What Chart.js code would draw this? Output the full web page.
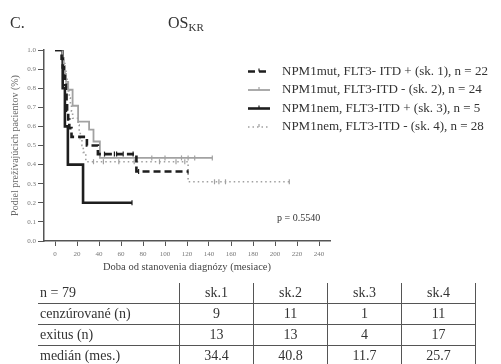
<!DOCTYPE html>
<html>
<head>
<meta charset="utf-8">
<script src="https://cdn.jsdelivr.net/npm/chart.js@4/dist/chart.umd.min.js"></script>
<style>
  body { margin: 0; background: #fff; font-family: "Liberation Serif", serif; color: #333; }
  #wrap { position: relative; width: 501px; height: 364px; overflow: hidden; }
  #chart { position: absolute; left: 0; top: 0; }
  .txt { position: absolute; white-space: nowrap; line-height: 1; }
  #panel { left: 10px; top: 15px; font-size: 16px; }
  #title { left: 168px; top: 15px; font-size: 16px; }
  #title sub { font-size: 11px; vertical-align: -3px; }
  #pval { left: 277px; top: 213px; font-size: 10px; }
  table { position: absolute; left: 38px; top: 283px; border-collapse: collapse; font-size: 14px; color: #333; }
  td { height: 20px; padding: 0; width: 73px; text-align: center; border-left: 1.5px solid #555; border-bottom: 1.5px solid #555; }
  td:first-child { width: 139px; padding-left: 2px; text-align: left; border-left: none; }
  td:last-child { border-right: 1.5px solid #555; }
  tr:last-child td { border-bottom: none; }
</style>
</head>
<body>
<div id="wrap">
  <canvas id="chart" width="501" height="285"></canvas>
  <div class="txt" id="panel">C.</div>
  <div class="txt" id="title">OS<sub>KR</sub></div>
  <div class="txt" id="pval">p = 0.5540</div>
  <table id="stats"></table>
</div>
<script>
// Kaplan-Meier steps: time (months) where survival drops to the given value
const sk1Time = [0, 6, 7, 8, 9, 10, 10.5, 11, 12, 13, 15, 29, 39, 74, 121];
const sk1Surv = [1, 0.955, 0.909, 0.864, 0.818, 0.773, 0.727, 0.682, 0.636, 0.591, 0.545, 0.5, 0.455, 0.364, 0.364];
const sk1Cens = [45, 54, 56, 62, 71, 76, 121];

const sk2Time = [0, 7, 8, 9, 10, 12, 16, 21, 31, 35, 40.8, 143];
const sk2Surv = [1, 0.958, 0.917, 0.875, 0.833, 0.792, 0.708, 0.625, 0.583, 0.521, 0.435, 0.435];
const sk2Cens = [88, 100, 115, 121, 127, 143];

const sk3Time = [0, 7, 9, 11.7, 25.5, 70];
const sk3Surv = [1, 0.8, 0.6, 0.4, 0.2, 0.2];
const sk3Cens = [70];

const sk4Time = [0, 7, 8, 9, 10, 11, 12, 13, 14, 15, 16, 21, 22, 23, 24.5, 25.7, 28, 121, 213];
const sk4Surv = [1, 0.964, 0.929, 0.893, 0.857, 0.821, 0.786, 0.75, 0.714, 0.679, 0.643, 0.607, 0.571, 0.536, 0.5, 0.464, 0.415, 0.31, 0.31];
const sk4Cens = [35, 44, 58, 72, 95, 110, 118, 145, 149, 155, 213];

const groupLabels = [
  "NPM1mut, FLT3- ITD + (sk. 1), n = 22",
  "NPM1mut, FLT3-ITD - (sk. 2), n = 24",
  "NPM1nem, FLT3-ITD + (sk. 3), n = 5",
  "NPM1nem, FLT3-ITD - (sk. 4), n = 28"
];
const xTicks = [0, 20, 40, 60, 80, 100, 120, 140, 160, 180, 200, 220, 240];
const yTicks = [0, 0.1, 0.2, 0.3, 0.4, 0.5, 0.6, 0.7, 0.8, 0.9, 1.0];

const tableHead = ["n = 79", "sk.1", "sk.2", "sk.3", "sk.4"];
const tableRows = [
  ["cenzúrované (n)", 9, 11, 1, 11],
  ["exitus (n)", 13, 13, 4, 17],
  ["medián (mes.)", "34.4", "40.8", "11.7", "25.7"]
];

function survAt(times, surv, t) {
  let s = surv[0];
  for (let i = 0; i < times.length; i++) if (times[i] <= t) s = surv[i];
  return s;
}

const groups = [
  { time: sk1Time, surv: sk1Surv, cens: sk1Cens, color: "#1e1e1e", width: 2.6, dash: [7, 4] },
  { time: sk2Time, surv: sk2Surv, cens: sk2Cens, color: "#a2a2a2", width: 1.8, dash: [] },
  { time: sk3Time, surv: sk3Surv, cens: sk3Cens, color: "#1e1e1e", width: 2.6, dash: [] },
  { time: sk4Time, surv: sk4Surv, cens: sk4Cens, color: "#a0a0a0", width: 1.6, dash: [1.5, 3] }
];

const datasets = [];
groups.forEach((g, i) => {
  datasets.push({
    type: "line",
    label: groupLabels[i],
    data: g.time.map((t, k) => ({ x: t, y: g.surv[k] })),
    stepped: true,
    borderColor: g.color,
    borderWidth: g.width,
    borderDash: g.dash,
    pointRadius: 0,
    fill: false
  });
});
groups.forEach((g, i) => {
  datasets.push({
    type: "scatter",
    label: "cens" + (i + 1),
    data: g.cens.map(t => ({ x: t, y: survAt(g.time, g.surv, t) })),
    pointStyle: "line",
    rotation: 90,
    pointRadius: 2.5,
    borderColor: g.color,
    borderWidth: 1.2,
    backgroundColor: g.color
  });
});

// legend on the right: line sample with censor tick, then the label
const legendPlugin = {
  id: "kmLegend",
  afterDraw(chart) {
    const ctx = chart.ctx;
    ctx.save();
    for (let i = 0; i < 4; i++) {
      const ds = chart.data.datasets[i];
      const y = 71.5 + i * 18.5;
      ctx.strokeStyle = ds.borderColor;
      ctx.lineWidth = ds.borderWidth;
      ctx.setLineDash(ds.borderDash);
      ctx.beginPath();
      ctx.moveTo(248, y);
      ctx.lineTo(270, y);
      ctx.stroke();
      ctx.setLineDash([]);
      ctx.lineWidth = 1.2;
      ctx.beginPath();
      ctx.moveTo(259, y - 3);
      ctx.lineTo(259, y);
      ctx.stroke();
      ctx.fillStyle = "#333";
      ctx.font = "13px 'Liberation Serif'";
      ctx.textBaseline = "middle";
      ctx.fillText(ds.label, 282, y);
    }
    ctx.restore();
  }
};

new Chart(document.getElementById("chart"), {
  data: { datasets: datasets },
  options: {
    responsive: false,
    animation: false,
    layout: { padding: { left: 0, top: 50, right: 171, bottom: 0 } },
    plugins: { legend: { display: false }, tooltip: { enabled: false } },
    scales: {
      x: {
        type: "linear",
        min: -10,
        max: 250,
        afterFit: s => { s.height = 44; },
        afterBuildTicks: s => { s.ticks = xTicks.map(v => ({ value: v })); },
        grid: { drawOnChartArea: false, drawTicks: true, tickLength: 5, color: "#555" },
        border: { display: true, color: "#555", width: 1.5 },
        ticks: { color: "#777", font: { family: "Liberation Serif", size: 7 }, padding: 4, maxRotation: 0 },
        title: { display: true, text: "Doba od stanovenia diagnózy (mesiace)", color: "#444",
                 font: { family: "Liberation Serif", size: 10.5 }, padding: { top: 0, bottom: 11 } }
      },
      y: {
        type: "linear",
        min: 0,
        max: 1,
        afterFit: s => { s.width = 44; },
        afterBuildTicks: s => { s.ticks = yTicks.map(v => ({ value: v })); },
        grid: { drawOnChartArea: false, drawTicks: true, tickLength: 6, color: "#555" },
        border: { display: true, color: "#555", width: 1.5 },
        ticks: { color: "#777", font: { family: "Liberation Serif", size: 7 }, padding: 2,
                 callback: v => v.toFixed(1) },
        title: { display: true, text: "Podiel prežívajúcich pacientov (%)", color: "#666",
                 font: { family: "Liberation Serif", size: 10 }, padding: { top: 9, bottom: 0 } }
      }
    }
  },
  plugins: [legendPlugin]
});

// summary table under the plot
const table = document.getElementById("stats");
[tableHead].concat(tableRows).forEach(row => {
  const tr = document.createElement("tr");
  row.forEach(cell => {
    const td = document.createElement("td");
    td.textContent = cell;
    tr.appendChild(td);
  });
  table.appendChild(tr);
});
</script>
</body>
</html>
